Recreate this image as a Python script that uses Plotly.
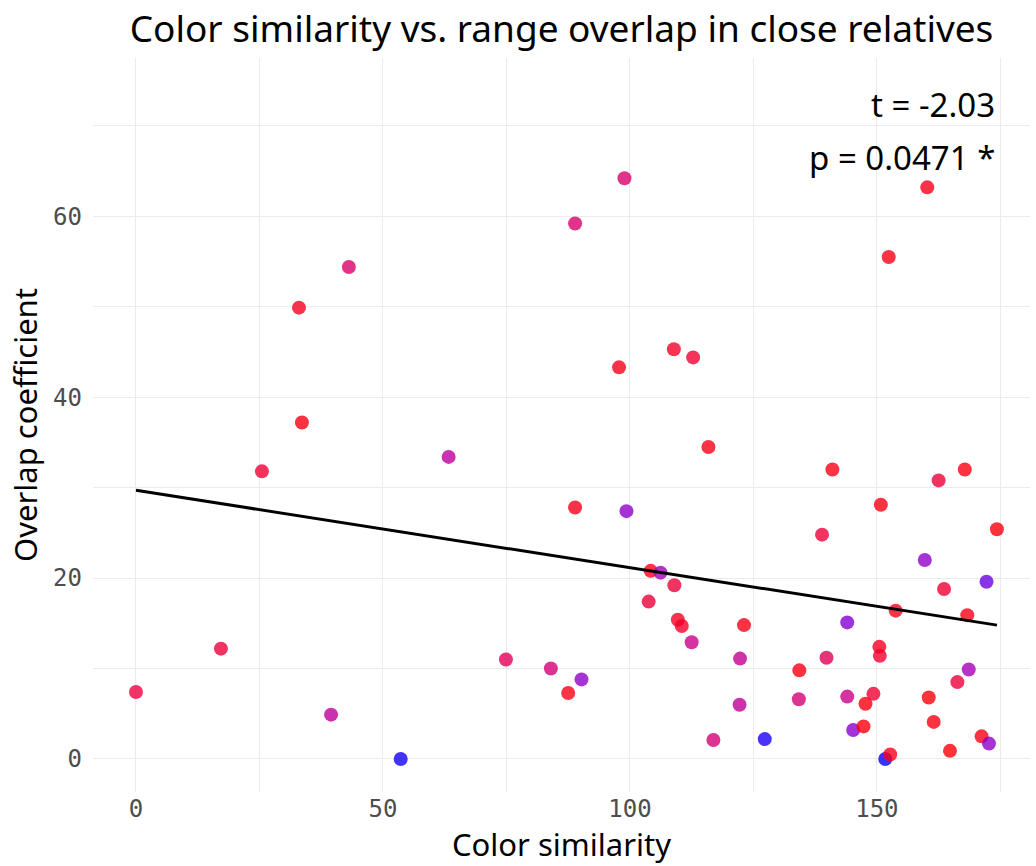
import plotly.graph_objects as go

# Color similarity (x), overlap coefficient (y), colour value (0 = blue, 1 = red)
color_similarity = [0.0, 17.2, 25.5, 33.0, 33.6, 39.5, 43.1, 53.6, 63.3, 74.9,
                    84.0, 87.5, 88.9, 88.9, 90.2, 97.8, 98.9, 99.3, 103.8, 104.2,
                    106.2, 108.9, 109.0, 109.7, 110.5, 112.5, 112.8, 115.9, 116.9, 122.3,
                    122.2, 123.1, 127.3, 134.3, 134.2, 138.9, 139.8, 141.0, 144.0, 144.0,
                    145.2, 147.3, 147.7, 149.3, 150.5, 150.6, 150.8, 151.7, 152.7, 152.4,
                    153.8, 159.7, 160.2, 160.5, 161.5, 162.5, 163.6, 164.8, 166.3, 167.8,
                    168.3, 168.6, 171.2, 172.2, 172.7, 174.3]
overlap_coef = [7.4, 12.2, 31.8, 49.9, 37.2, 4.9, 54.4, 0.0, 33.4, 11.0,
                10.0, 7.3, 59.2, 27.8, 8.8, 43.3, 64.2, 27.4, 17.4, 20.8,
                20.6, 45.3, 19.2, 15.4, 14.7, 12.9, 44.4, 34.5, 2.1, 11.1,
                6.0, 14.8, 2.2, 9.8, 6.6, 24.8, 11.2, 32.0, 15.1, 6.9,
                3.2, 3.6, 6.1, 7.2, 12.4, 11.4, 28.1, 0.0, 0.5, 55.5,
                16.4, 22.0, 63.2, 6.8, 4.1, 30.8, 18.8, 0.9, 8.5, 32.0,
                15.9, 9.9, 2.5, 19.6, 1.7, 25.4]
color_value = [0.80, 0.82, 0.84, 0.90, 0.94, 0.42, 0.62, 0.02, 0.42, 0.70,
               0.58, 0.93, 0.62, 0.92, 0.22, 0.92, 0.62, 0.22, 0.82, 0.93,
               0.30, 0.88, 0.82, 0.88, 0.88, 0.50, 0.84, 0.93, 0.58, 0.47,
               0.44, 0.94, 0.03, 0.95, 0.58, 0.82, 0.70, 0.93, 0.18, 0.50,
               0.20, 0.96, 0.96, 0.84, 0.90, 0.86, 0.94, 0.01, 0.93, 0.93,
               0.92, 0.22, 0.92, 0.97, 0.95, 0.82, 0.84, 0.97, 0.82, 0.95,
               0.93, 0.30, 0.93, 0.12, 0.22, 0.96]

# Regression line end points
fit_x = [0.0, 174.3]
fit_y = [29.7, 14.8]

x_ticks = [0, 50, 100, 150]
y_ticks = [0, 20, 40, 60]

stat_labels = ["t = -2.03", "p = 0.0471 *"]
stat_y = [72.4, 66.5]
stat_x = 174.3

colorscale = [
    [0.0, "rgb(0,0,255)"],
    [0.125, "rgb(114,0,224)"],
    [0.25, "rgb(154,0,194)"],
    [0.5, "rgb(202,0,136)"],
    [0.75, "rgb(232,0,79)"],
    [1.0, "rgb(255,0,0)"],
]

fig = go.Figure()
fig.add_trace(go.Scatter(
    x=color_similarity, y=overlap_coef, mode="markers",
    marker=dict(size=14, color=color_value, colorscale=colorscale, cmin=0, cmax=1,
                opacity=0.8, line=dict(width=0), showscale=False),
    showlegend=False, hoverinfo="x+y"))
fig.add_trace(go.Scatter(
    x=fit_x, y=fit_y, mode="lines", line=dict(color="black", width=3),
    showlegend=False, hoverinfo="skip"))

for lbl, yy in zip(stat_labels, stat_y):
    fig.add_annotation(x=stat_x, y=yy, text=lbl, showarrow=False, xanchor="right",
                       yanchor="middle", font=dict(family="Noto Sans", size=33, color="black"))

grid = "#ebebeb"
fig.update_layout(
    width=1036, height=866,
    paper_bgcolor="white", plot_bgcolor="white",
    margin=dict(l=93, r=6, t=58, b=74),
    title=dict(text="Color similarity vs. range overlap in close relatives",
               x=0.5, xref="paper", xanchor="center", y=0.966, yref="container", yanchor="middle",
               font=dict(family="Noto Sans", size=37, color="black")),
    xaxis=dict(range=[-8.7, 181.0], tickvals=x_ticks, showgrid=True, gridcolor=grid, gridwidth=1.3,
               zeroline=False, showline=False, ticks="", ticklabelstandoff=0,
               tickfont=dict(family="DejaVu Sans Mono", size=24, color="#4d4d4d"),
               minor=dict(tickvals=[25, 75, 125, 175], showgrid=True, gridcolor=grid, gridwidth=0.7),
               title=dict(text="Color similarity", standoff=6,
                          font=dict(family="Noto Sans", size=31, color="black"))),
    yaxis=dict(range=[-3.65, 77.5], tickvals=y_ticks, showgrid=True, gridcolor=grid, gridwidth=1.3,
               zeroline=False, showline=False, ticks="", ticklabelstandoff=10,
               tickfont=dict(family="DejaVu Sans Mono", size=24, color="#4d4d4d"),
               minor=dict(tickvals=[10, 30, 50, 70], showgrid=True, gridcolor=grid, gridwidth=0.7),
               title=dict(text="Overlap coefficient", standoff=6,
                          font=dict(family="Noto Sans", size=31, color="black"))),
)

fig.write_html("out.html")
